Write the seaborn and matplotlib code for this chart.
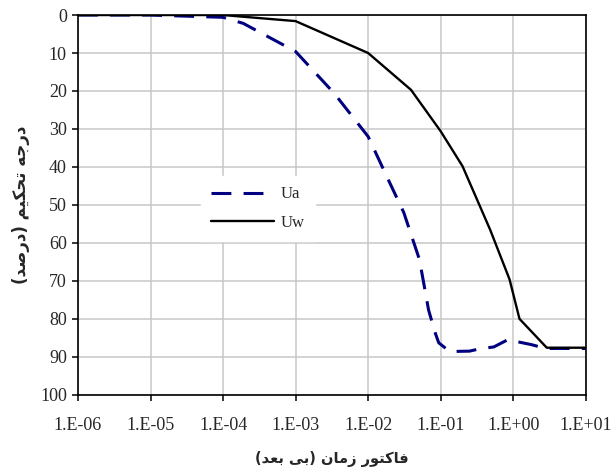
import matplotlib
matplotlib.use("Agg")
import matplotlib.pyplot as plt
import matplotlib.ticker as mticker
import seaborn as sns
import pandas as pd

# time factor (dimensionless) and degree of consolidation (%)
ua_time = [1e-6, 1e-5, 1e-4, 1.9e-4, 1e-3, 3.4e-3, 1e-2, 1.9e-2, 3.1e-2, 5.1e-2,
           6.8e-2, 8.3e-2, 9.4e-2, 0.133, 0.25, 0.344, 0.54, 0.84, 1.79, 2.8, 10]
ua_value = [0, 0, 0.6, 2.2, 9.6, 20.6, 32, 43.4, 52, 64.4,
            77.6, 83.4, 86.3, 88.6, 88.5, 87.9, 87.4, 85.5, 86.8, 87.8, 87.8]

uw_time = [1e-6, 1e-5, 1e-4, 1e-3, 1e-2, 3.9e-2, 0.1, 0.2, 0.48, 0.89, 1.22, 2.9, 10]
uw_value = [0, 0, 0, 1.6, 10, 19.7, 30.6, 39.8, 56.5, 69.6, 80, 87.6, 87.6]

x_ticks = [1e-6, 1e-5, 1e-4, 1e-3, 1e-2, 1e-1, 1e0, 1e1]
x_tick_labels = ["1.E-06", "1.E-05", "1.E-04", "1.E-03", "1.E-02", "1.E-01", "1.E+00", "1.E+01"]
y_ticks = [0, 10, 20, 30, 40, 50, 60, 70, 80, 90, 100]

# Persian labels written in visual order with presentation forms (no shaping engine in matplotlib)
x_label = ("(\uFEAA\uFECC\uFE91 \uFEF0\uFE91) "
           "\uFEE5\uFE8E\uFEE3\uFEAF "
           "\uFEAD\uFEEE\uFE98\uFB90\uFE8E\uFED3")   # فاکتور زمان (بی بعد)
y_label = ("(\uFEAA\uFEBB\uFEAD\uFEA9) "
           "\uFEE2\uFEF4\uFB91\uFEA4\uFE97 "
           "\uFEEA\uFE9F\uFEAD\uFEA9")               # درجه تحکیم (درصد)

df_ua = pd.DataFrame({"t": ua_time, "u": ua_value})
df_uw = pd.DataFrame({"t": uw_time, "u": uw_value})

sns.set_style("white")
plt.rcParams["font.family"] = ["Liberation Serif", "DejaVu Serif"]

fig = plt.figure(figsize=(6.14, 4.70), dpi=100)
ax = fig.add_axes([0.127, 0.160, 0.827, 0.808])

sns.lineplot(data=df_ua, x="t", y="u", ax=ax, color="#000080", linewidth=2.2,
             label="Ua", sort=False, estimator=None)
ax.lines[-1].set_dashes((6.5, 4))
sns.lineplot(data=df_uw, x="t", y="u", ax=ax, color="black", linewidth=1.7,
             label="Uw", sort=False, estimator=None)

ax.set_xscale("log")
ax.set_xlim(1e-6, 1e1)
ax.set_ylim(100, 0)
ax.xaxis.set_major_locator(mticker.FixedLocator(x_ticks))
ax.xaxis.set_major_formatter(mticker.FixedFormatter(x_tick_labels))
ax.xaxis.set_minor_locator(mticker.NullLocator())
ax.set_yticks(y_ticks)

ax.grid(True, color="#c8c8c8", linewidth=1.1)
ax.set_axisbelow(True)
for s in ax.spines.values():
    s.set_color("black")
    s.set_linewidth(1.2)
ax.tick_params(axis="both", direction="out", length=4, width=1.1, color="black",
               labelsize=13, pad=4, left=True, bottom=True)
ax.tick_params(axis="x", pad=12)

ax.set_xlabel(x_label, family=["DejaVu Sans"], fontweight="bold", fontsize=10.5, labelpad=12)
ax.set_ylabel(y_label, family=["DejaVu Sans"], fontweight="bold", fontsize=12, labelpad=7)

leg = ax.legend(loc="center left", bbox_to_anchor=(0.225, 0.49), frameon=True,
                fontsize=12, handlelength=3.8, labelspacing=0.75, handletextpad=0.4,
                borderpad=0.6, fancybox=False)
leg.get_frame().set_edgecolor("white")
leg.get_frame().set_facecolor("white")
leg.get_frame().set_alpha(1)

fig.savefig("out.png", dpi=100)
